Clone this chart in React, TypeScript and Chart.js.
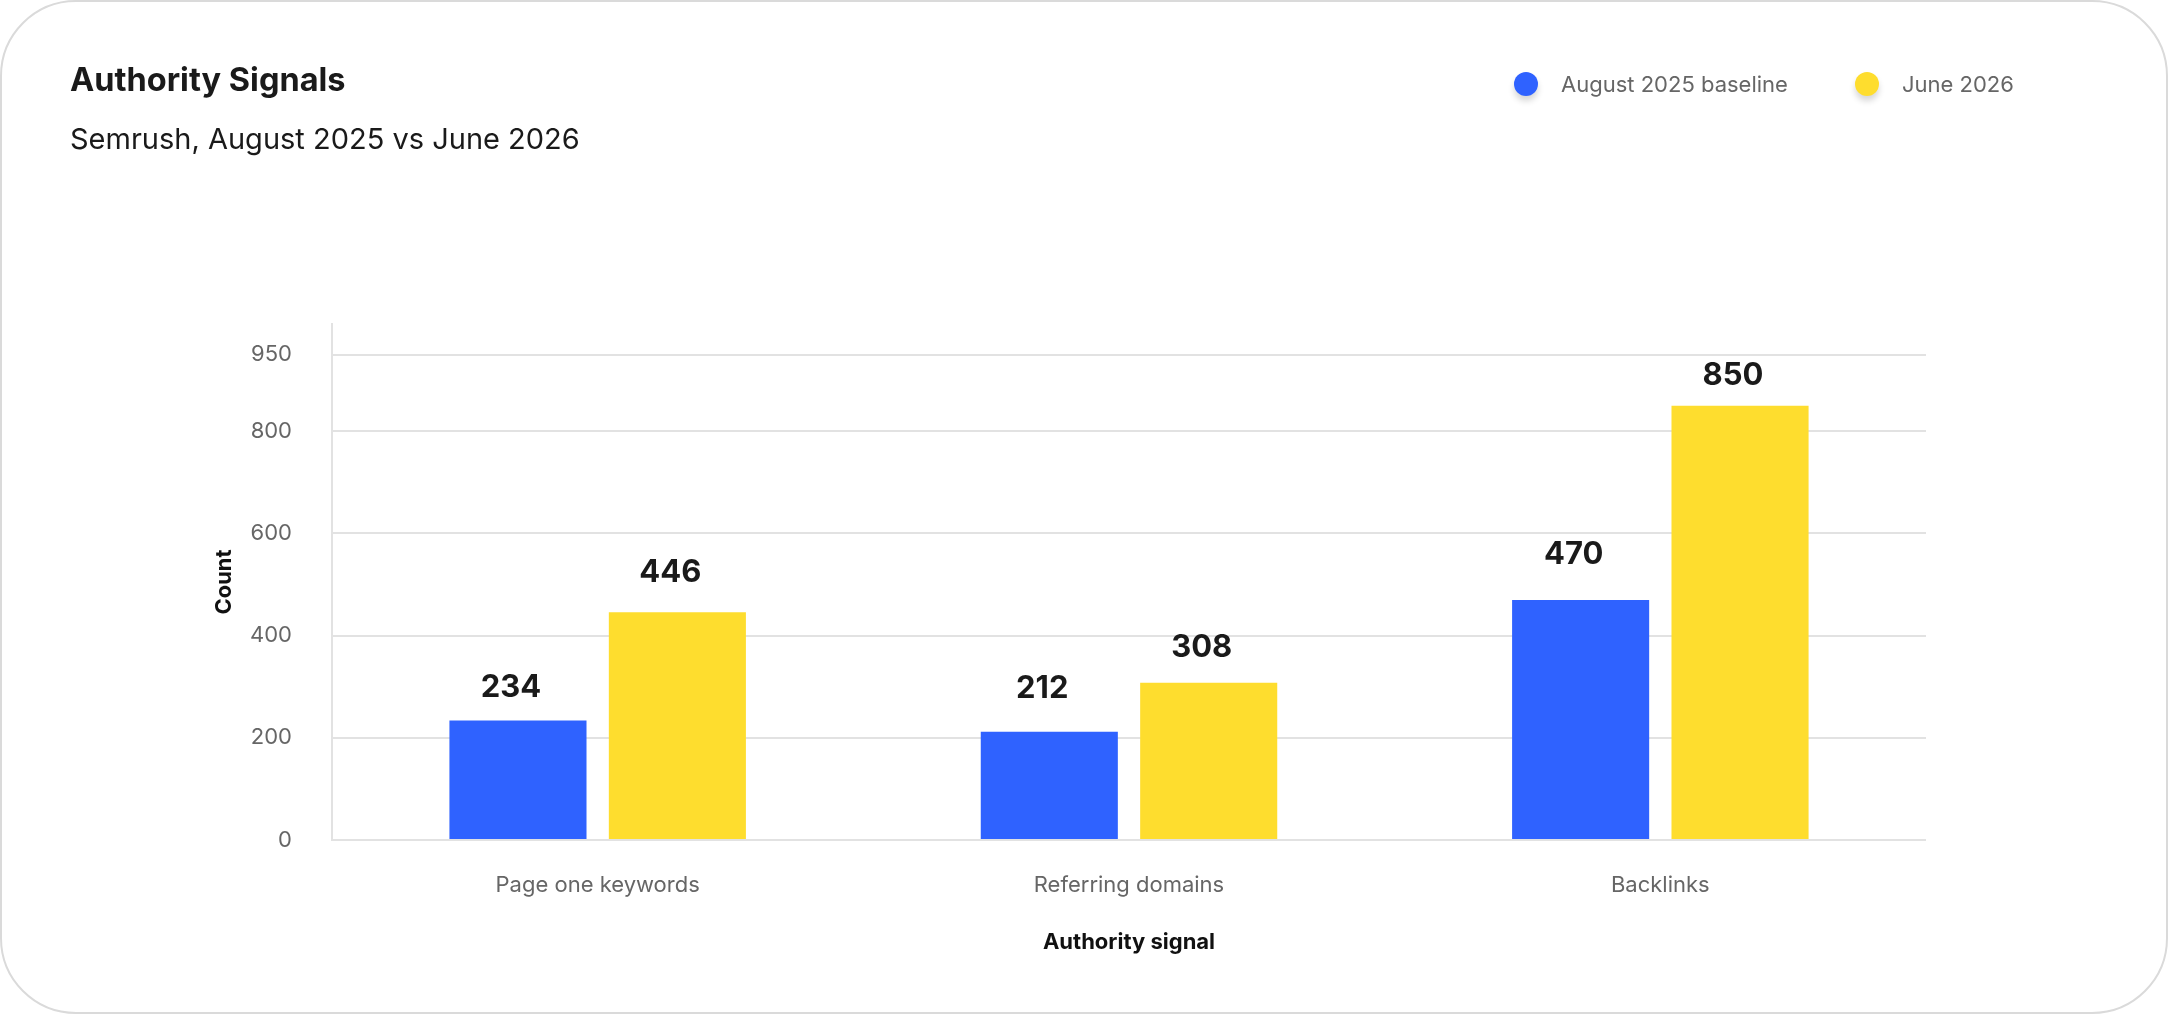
import { useEffect, useRef } from "react";
import {
  Chart, BarController, BarElement, CategoryScale, LinearScale,
} from "chart.js";

Chart.register(BarController, BarElement, CategoryScale, LinearScale);

const CATEGORIES = ["Page one keywords", "Referring domains", "Backlinks"];
const BASELINE_AUG_2025 = [234, 212, 470];
const JUNE_2026 = [446, 308, 850];
const Y_TICKS = [0, 200, 400, 600, 800, 950];
const Y_MAX = 1010;

// how far (px) each value label sits above its bar, per dataset
const LABEL_LIFT = [
  [33, 43, 45],
  [39, 35, 30],
];

const BLUE = "#2F62FF";
const YELLOW = "#FEDD2E";
const GRID = "#e2e2e2";
const FONT = "Inter, 'Noto Sans', sans-serif";

// numbers over every bar, drawn after the bars
const valueLabels = {
  id: "valueLabels",
  afterDatasetsDraw(chart: Chart) {
    const { ctx } = chart;
    ctx.save();
    ctx.font = `700 31px ${FONT}`;
    ctx.fillStyle = "#1a1a1a";
    ctx.textAlign = "center";
    ctx.textBaseline = "middle";
    chart.data.datasets.forEach((ds, i) => {
      chart.getDatasetMeta(i).data.forEach((bar: any, j) => {
        ctx.fillText(String(ds.data[j]), bar.x - 7, bar.y - LABEL_LIFT[i][j]);
      });
    });
    ctx.restore();
  },
};

function LegendItem({ color, label }: { color: string; label: string }) {
  return (
    <div style={{ display: "flex", alignItems: "center", height: 24 }}>
      <span
        style={{
          width: 24, height: 24, borderRadius: "50%", background: color,
          boxShadow: "0 5px 6px rgba(0,0,0,0.16)", marginRight: 23,
        }}
      />
      <span style={{ fontSize: 22, lineHeight: "24px", color: "#666" }}>{label}</span>
    </div>
  );
}

export default function App() {
  const canvasRef = useRef<HTMLCanvasElement>(null);
  const chartRef = useRef<Chart | null>(null);

  useEffect(() => {
    if (!canvasRef.current) return;
    chartRef.current?.destroy();

    chartRef.current = new Chart(canvasRef.current, {
      type: "bar",
      data: {
        labels: CATEGORIES,
        datasets: [
          { label: "August 2025 baseline", data: BASELINE_AUG_2025, backgroundColor: BLUE },
          { label: "June 2026", data: JUNE_2026, backgroundColor: YELLOW },
        ],
      },
      options: {
        animation: false,
        responsive: true,
        maintainAspectRatio: false,
        font: { family: FONT },
        layout: { padding: { top: 324, left: 211, right: 242, bottom: 58 } },
        datasets: { bar: { categoryPercentage: 0.6, barPercentage: 0.86 } },
        plugins: { legend: { display: false }, tooltip: { enabled: false } },
        scales: {
          y: {
            min: 0,
            max: Y_MAX,
            afterBuildTicks: (s: any) => { s.ticks = Y_TICKS.map((value) => ({ value })); },
            afterFit: (s: any) => { s.width = 121; },
            grid: { color: GRID, lineWidth: 2, drawTicks: false },
            border: { color: GRID, width: 2 },
            ticks: { padding: 40, color: "#666", font: { family: FONT, size: 22 } },
            title: {
              display: true, text: "Count", color: "#111", padding: 0,
              font: { family: FONT, size: 22, weight: "bold" },
            },
          },
          x: {
            afterFit: (s: any) => { s.height = 116; },
            grid: { display: false },
            border: { display: false },
            ticks: { padding: 24, color: "#666", font: { family: FONT, size: 22 } },
            title: {
              display: true, text: "Authority signal", color: "#111", padding: 0,
              font: { family: FONT, size: 22, weight: "bold" },
            },
          },
        },
      },
      plugins: [valueLabels],
    });

    return () => chartRef.current?.destroy();
  }, []);

  return (
    <div style={{ position: "relative", width: 2168, height: 1014, fontFamily: FONT, background: "#fff" }}>
      <style>{"body{margin:0;background:#fff}"}</style>
      <div style={{ position: "absolute", inset: 0 }}>
        <canvas ref={canvasRef} />
      </div>
      <div
        style={{
          position: "absolute", left: 70, top: 64, fontSize: 32.5, fontWeight: 700,
          lineHeight: 1, color: "#1a1a1a",
        }}
      >
        Authority Signals
      </div>
      <div style={{ position: "absolute", left: 70, top: 124, fontSize: 29, lineHeight: 1, color: "#1a1a1a" }}>
        Semrush, August 2025 vs June 2026
      </div>
      <div style={{ position: "absolute", left: 1514, top: 72, display: "flex", gap: 67 }}>
        <LegendItem color={BLUE} label="August 2025 baseline" />
        <LegendItem color={YELLOW} label="June 2026" />
      </div>
      <div
        style={{
          position: "absolute", inset: 0, boxSizing: "border-box", border: "2px solid #dadada",
          borderRadius: 76, pointerEvents: "none",
        }}
      />
    </div>
  );
}
